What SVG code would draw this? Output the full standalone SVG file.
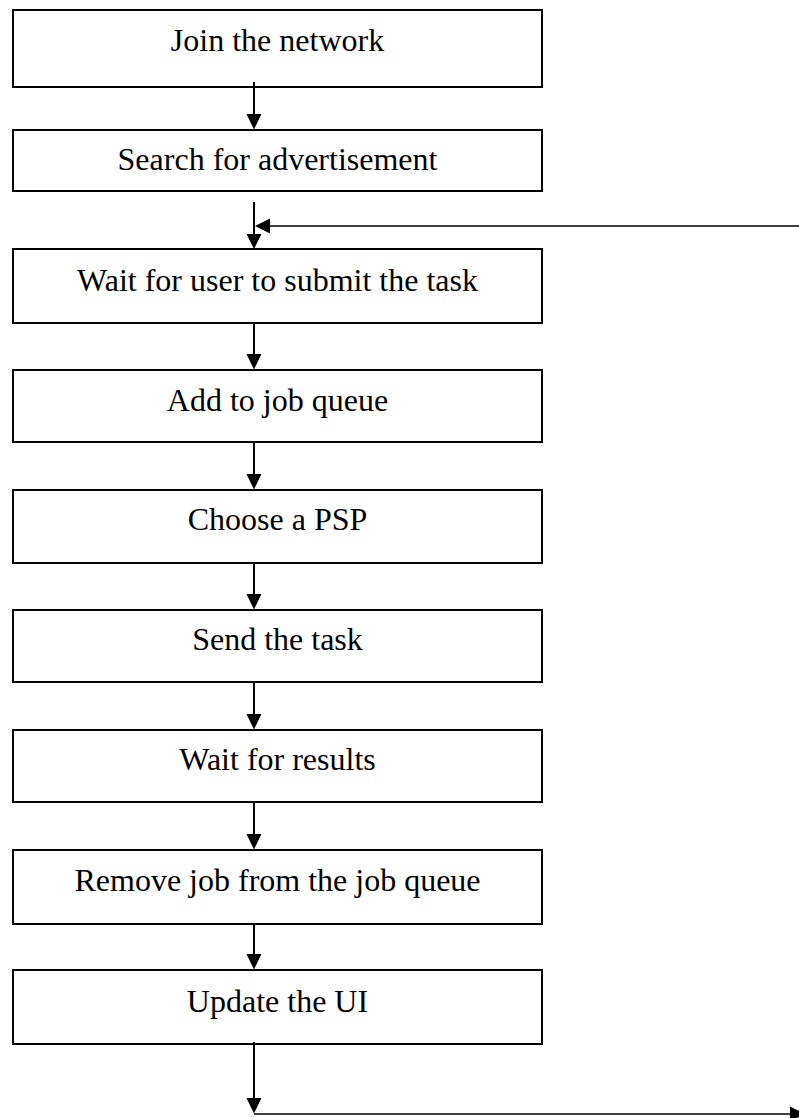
<svg xmlns="http://www.w3.org/2000/svg" width="799" height="1118" viewBox="0 0 799 1118">
  <style>
    .box { fill: #ffffff; stroke: #000000; stroke-width: 2; }
    .label { font-family: "Liberation Serif", "Times New Roman", serif; font-size: 32px; fill: #000000; text-anchor: middle; }
    .wire { stroke: #000000; stroke-width: 2; fill: none; }
    .wire-h { stroke: #000000; stroke-width: 1.6; fill: none; }
    .head { fill: #000000; stroke: none; }
  </style>
  <rect x="0" y="0" width="799" height="1118" fill="#ffffff"/>

  <g id="n1"><rect class="box" x="13" y="10" width="529" height="77"/><text class="label" x="277.5" y="51">Join the network</text></g>
  <g id="n2"><rect class="box" x="13" y="130" width="529" height="61"/><text class="label" x="277.5" y="170">Search for advertisement</text></g>
  <g id="n3"><rect class="box" x="13" y="249" width="529" height="74"/><text class="label" x="277.5" y="291">Wait for user to submit the task</text></g>
  <g id="n4"><rect class="box" x="13" y="370" width="529" height="72"/><text class="label" x="277.5" y="411">Add to job queue</text></g>
  <g id="n5"><rect class="box" x="13" y="490" width="529" height="73"/><text class="label" x="277.5" y="530">Choose a PSP</text></g>
  <g id="n6"><rect class="box" x="13" y="610" width="529" height="72"/><text class="label" x="277.5" y="650">Send the task</text></g>
  <g id="n7"><rect class="box" x="13" y="730" width="529" height="72"/><text class="label" x="277.5" y="770">Wait for results</text></g>
  <g id="n8"><rect class="box" x="13" y="850" width="529" height="74"/><text class="label" x="277.5" y="891">Remove job from the job queue</text></g>
  <g id="n9"><rect class="box" x="13" y="970" width="529" height="74"/><text class="label" x="277.5" y="1012">Update the UI</text></g>

  <g id="connectors">
    <!-- downward links between steps -->
    <line class="wire" x1="254" y1="82" x2="254" y2="116"/>
    <polygon class="head" points="246.5,114 261.5,114 254,129.5"/>

    <line class="wire" x1="254" y1="202" x2="254" y2="236"/>
    <polygon class="head" points="246.5,234 261.5,234 254,249"/>

    <line class="wire" x1="254" y1="322" x2="254" y2="356"/>
    <polygon class="head" points="246.5,354 261.5,354 254,369.5"/>

    <line class="wire" x1="254" y1="442" x2="254" y2="476"/>
    <polygon class="head" points="246.5,474 261.5,474 254,489.5"/>

    <line class="wire" x1="254" y1="562" x2="254" y2="596"/>
    <polygon class="head" points="246.5,594 261.5,594 254,609.5"/>

    <line class="wire" x1="254" y1="682" x2="254" y2="716"/>
    <polygon class="head" points="246.5,714 261.5,714 254,729.5"/>

    <line class="wire" x1="254" y1="802" x2="254" y2="836"/>
    <polygon class="head" points="246.5,834 261.5,834 254,849.5"/>

    <line class="wire" x1="254" y1="924" x2="254" y2="956"/>
    <polygon class="head" points="246.5,954 261.5,954 254,969.5"/>

    <!-- exit from the last step -->
    <line class="wire" x1="254" y1="1042" x2="254" y2="1100"/>
    <polygon class="head" points="246.5,1098 261.5,1098 254,1113.5"/>
    <line class="wire-h" x1="254" y1="1114" x2="795" y2="1114"/>
    <polygon class="head" points="790,1106.5 790,1121.5 805,1114"/>

    <!-- loop back in above the waiting step -->
    <line class="wire-h" x1="268" y1="226" x2="799" y2="226"/>
    <polygon class="head" points="270,218.5 270,233.5 255,226"/>
  </g>
</svg>
